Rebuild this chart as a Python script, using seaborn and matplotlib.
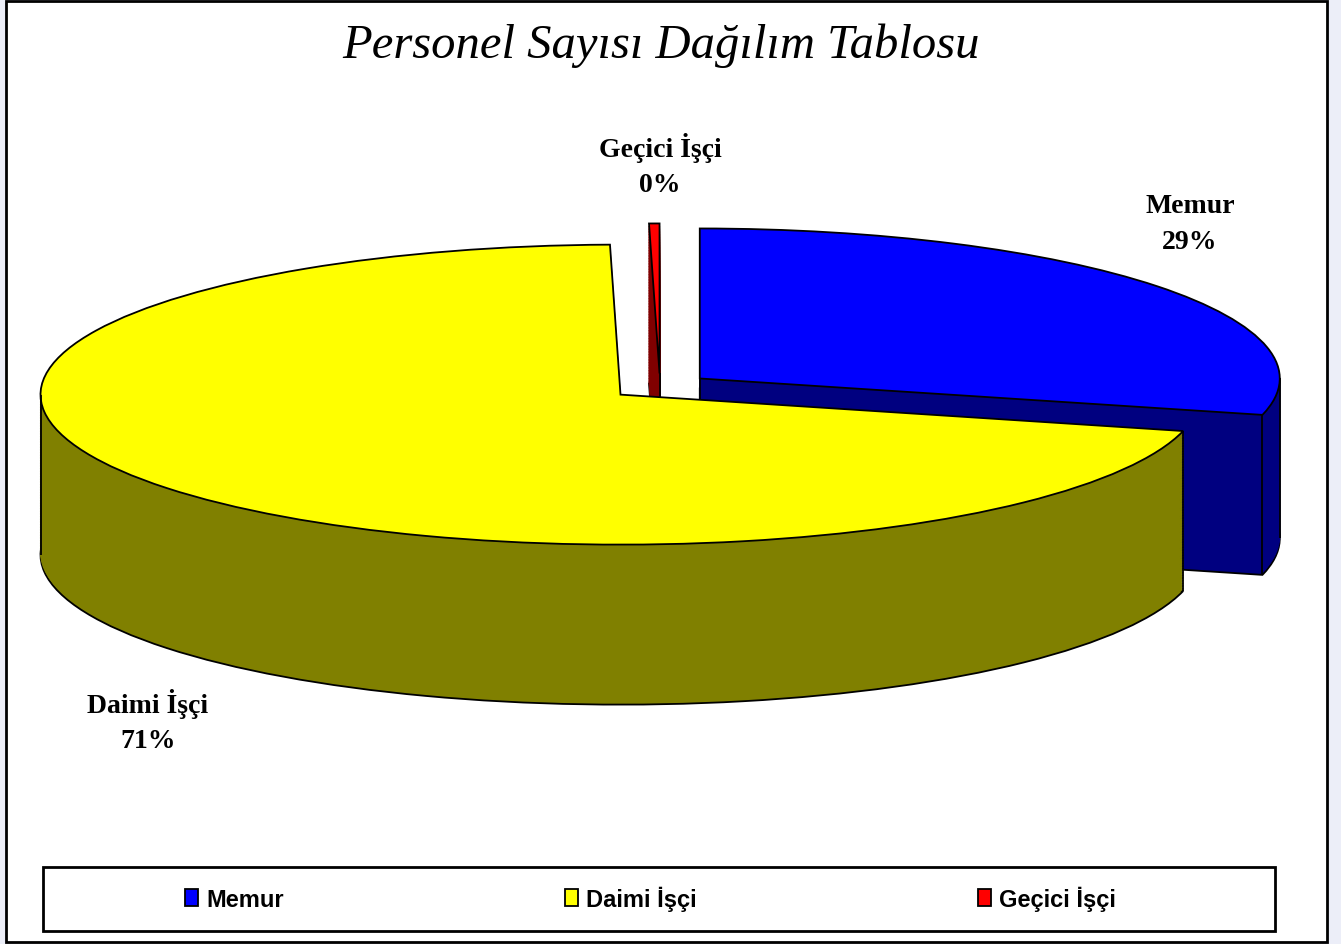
import matplotlib
matplotlib.use("Agg")
import matplotlib.pyplot as plt
import matplotlib.patches as mpatches
import numpy as np
import seaborn as sns

# data
categories = ["Memur", "Daimi İşçi", "Geçici İşçi"]
counts = [100, 245, 1]
top_colors = ["#0000FF", "#FFFF00", "#FF0000"]
side_colors = ["#000080", "#808000", "#800000"]

sns.set_theme(style="white")
plt.rcParams["font.family"] = ["Liberation Serif", "DejaVu Serif"]
plt.rcParams["text.color"] = "black"

W, H = 1341, 945
fig = plt.figure(figsize=(W / 100, H / 100), dpi=100, facecolor="#eceef8")

# white chart area with black border
fig.patches.append(mpatches.Rectangle((6 / W, 2 / H), 1321 / W, 941 / H,
                                      transform=fig.transFigure, facecolor="white",
                                      edgecolor="black", linewidth=2, zorder=-2))
# legend box
fig.patches.append(mpatches.Rectangle((43 / W, 1 - 932 / H), 1232 / W, 64 / H,
                                      transform=fig.transFigure, facecolor="white",
                                      edgecolor="black", linewidth=2, zorder=-1))

ax = fig.add_axes([0, 0, 1, 1])
ax.patch.set_alpha(0)

# pie geometry (pixels): center, horizontal / vertical radius, thickness
cx, cy = 660, 387.5
rx, ry = 580, 150
depth = 160 / ry
explode = [0.087] * len(counts)
n_layers = 60

layers = []
for i in range(n_layers + 1):
    dz = depth * (n_layers - i) / n_layers
    is_top = i == n_layers
    wedges, _ = ax.pie(counts, colors=top_colors if is_top else side_colors,
                       explode=explode, startangle=90, counterclock=False,
                       center=(0, -dz), radius=1)
    for w in wedges:
        if is_top or i == 0:
            w.set_edgecolor("black")
            w.set_linewidth(1.3)
        else:
            w.set_edgecolor(w.get_facecolor())
            w.set_linewidth(0.8)
    layers.append(wedges)

top = layers[-1]
# back slices first
order = np.argsort([-w.center[1] for w in top])
rank = {k: r for r, k in enumerate(order)}
for i, wedges in enumerate(layers):
    for k, w in enumerate(wedges):
        w.set_zorder(rank[k] * 1000 + i)


def in_wedge(w, x, y):
    dx, dy = x - w.center[0], y - w.center[1]
    if np.hypot(dx, dy) > w.r:
        return False
    a = np.degrees(np.arctan2(dy, dx))
    return ((a - w.theta1) % 360) <= (w.theta2 - w.theta1)


# vertical edges of the side walls
for k, w in enumerate(top):
    x0, y0 = w.center
    pts = [(x0, y0, True)]
    for t in (w.theta1, w.theta2):
        pts.append((x0 + w.r * np.cos(np.radians(t)), y0 + w.r * np.sin(np.radians(t)), True))
    for a in range(-720, 721, 180):
        if w.theta1 < a < w.theta2:
            pts.append((x0 + w.r * np.cos(np.radians(a)), y0 + w.r * np.sin(np.radians(a)), False))
    e, e2 = 1e-3, 5e-5
    for x, y, corner in pts:
        if corner and (in_wedge(w, x + e2, y - e) or in_wedge(w, x - e2, y - e)):
            continue
        ax.plot([x, x], [y, y - depth], color="black", linewidth=1.3,
                zorder=rank[k] * 1000 + 900, solid_capstyle="butt")

ax.set_aspect("auto")
ax.set_xlim(-cx / rx, (W - cx) / rx)
ax.set_ylim(-(H - cy) / ry, cy / ry)
ax.axis("off")

# title
fig.text(661 / W, 1 - 46 / H, "Personel Sayısı Dağılım Tablosu", ha="center", va="center",
         fontsize=35, style="italic", color="black", family=["Liberation Serif", "DejaVu Serif"])

# data labels
total = sum(counts)
label_pos = [(1190, 224.5), (148, 721.5), (660, 165.5)]
for name, c, (px, py) in zip(categories, counts, label_pos):
    fig.text(px / W, 1 - py / H, f"{name}\n{round(c / total * 100)}%", ha="center",
             va="center", fontsize=20, fontweight="bold", linespacing=1.55, color="black",
             family=["Liberation Serif", "DejaVu Serif"])

# legend
leg = ax.legend(handles=list(top), labels=categories, ncol=3, frameon=False,
                loc="center left", bbox_to_anchor=(185 / W, 1 - 899 / H),
                bbox_transform=fig.transFigure, handlelength=0.55, handleheight=0.7,
                handletextpad=0.35, columnspacing=11.9, borderpad=0, borderaxespad=0,
                prop={"family": ["Liberation Sans", "DejaVu Sans"], "weight": "bold", "size": 17})
leg.set_zorder(5000)
for t in leg.get_texts():
    t.set_color("black")

fig.savefig("out.png", dpi=100, facecolor=fig.get_facecolor())
